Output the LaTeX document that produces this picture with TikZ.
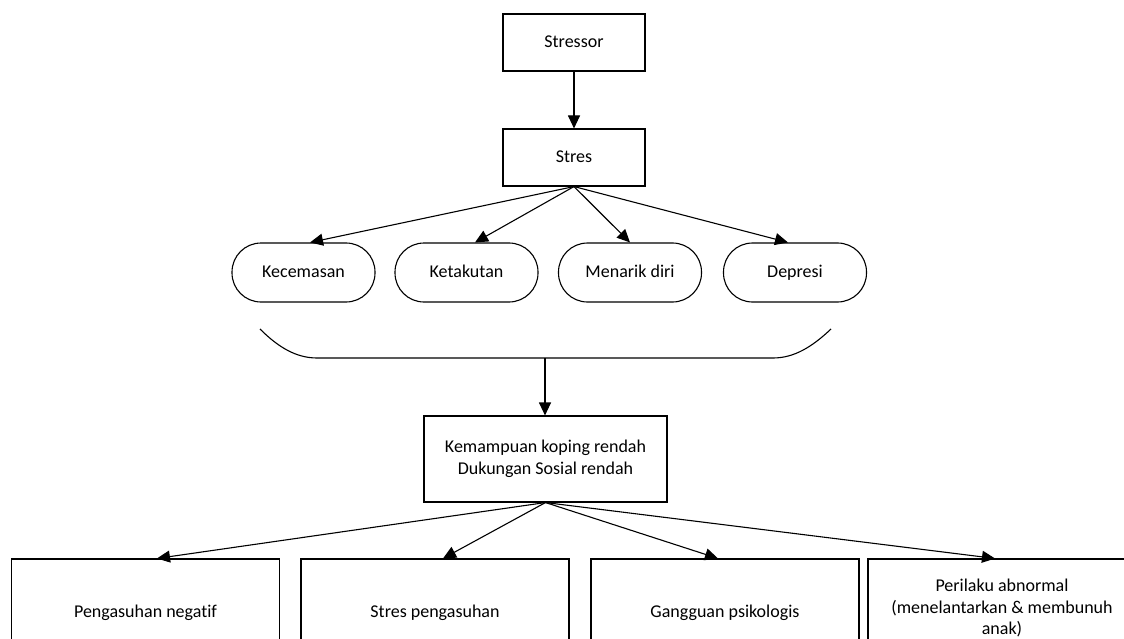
\documentclass[tikz,border=0pt]{standalone}
\usepackage{fontspec}
\setmainfont{Carlito}[Ligatures={NoCommon}]
\usetikzlibrary{arrows.meta,calc}
\tikzset{
  every node/.style={font=\fontsize{18}{22.5}\selectfont, inner sep=0pt},
  box/.style={draw, line width=1.1pt, rectangle, align=center},
  topbox/.style={box, minimum width=142pt, minimum height=57pt, text height=13pt, text depth=3pt},
  oval/.style={draw, line width=1.1pt, rectangle, rounded corners=29pt, minimum width=143pt, minimum height=59pt, text height=13pt, text depth=3pt},
  botbox/.style={box, minimum width=268pt, minimum height=108pt},
  conn/.style={line width=1.1pt, -{Triangle[length=13pt,width=12pt]}},
  plain/.style={line width=1.1pt}
}
\begin{document}
\begin{tikzpicture}[x=1pt,y=-1pt]
\useasboundingbox (0,0) rectangle (1124,639);
\begin{scope}
\clip (0,0) rectangle (1124,639);
\node[topbox] (stressor) at (574,42.5) {Stressor};
\node[topbox] (stres) at (574,157.5) {Stres};
\node[oval] (k1) at (303.5,272.5) {Kecemasan};
\node[oval] (k2) at (466.5,272.5) {Ketakutan};
\node[oval] (k3) at (630,272.5) {Menarik diri};
\node[oval] (k4) at (795,272.5) {Depresi};
\node[box, minimum width=243pt, minimum height=86pt] (mid) at (545.5,459) {Kemampuan koping rendah\\Dukungan Sosial rendah};
\node[botbox] (b1) at (145.5,613) {Pengasuhan negatif};
\node[botbox] (b2) at (435,613) {Stres pengasuhan};
\node[botbox] (b3) at (725,613) {Gangguan psikologis};
\node[botbox, minimum height=98pt, font=\fontsize{18}{21.5}\selectfont] (b4) at (1002,608) {Perilaku abnormal\\(menelantarkan \& membunuh\\anak)};
\coordinate (bl) at (260,329);
\coordinate (br) at (831,329);
\coordinate (bm) at (545,358);
\draw[plain] (bl) .. controls (278,347) and (296,358) .. (317,358) -- (773,358) .. controls (794,358) and (812,347) .. (br);
\draw[conn] (stressor.south) -- (stres.north);
\draw[conn] (stres.south) -- ($(k1.north)+(6.5,0)$);
\draw[conn] (stres.south) -- ($(k2.north)+(8.5,0)$);
\draw[conn] (stres.south) -- (k3.north);
\draw[conn] (stres.south) -- ($(k4.north)+(-7,0)$);
\draw[conn] (bm) -- (bm |- mid.north);
\draw[conn] (mid.south) -- ($(b1.north)+(11.5,0)$);
\draw[conn] (mid.south) -- ($(b2.north)+(8,0)$);
\draw[conn] (mid.south) -- ($(b3.north)+(-7,0)$);
\draw[conn] (mid.south) -- ($(b4.north)+(-7,0)$);
\end{scope}
\end{tikzpicture}
\end{document}
